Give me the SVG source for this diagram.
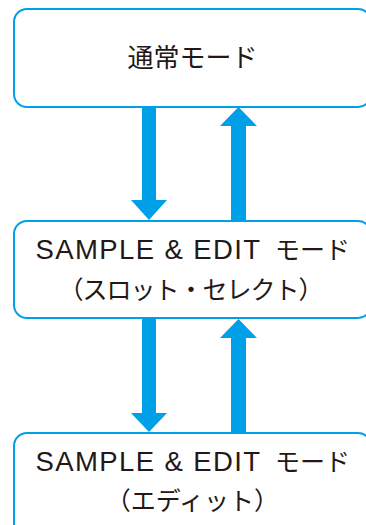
<svg xmlns="http://www.w3.org/2000/svg" width="366" height="525" viewBox="0 0 366 525">
<style>
.box{fill:#fff;stroke:#00a0e9;stroke-width:2}
.arr{fill:#00a0e9}
text{font-family:"Liberation Sans","Noto Sans CJK JP",sans-serif;font-size:25px;fill:#231815}
.c{text-anchor:middle}
.lat{font-size:27.5px;letter-spacing:1.4px}
.jp{font-family:"Noto Sans CJK JP",sans-serif;letter-spacing:0}
</style>
<rect width="366" height="525" fill="#fff"/>
<g id="connectors">
<polygon class="arr" points="142,107 156,107 156,200 167,200 149,220 131,200 142,200"/>
<polygon class="arr" points="231,220 246,220 246,126 257,126 238.5,107 220,126 231,126"/>
<polygon class="arr" points="142,318 156,318 156,413 167,413 149,432 131,413 142,413"/>
<polygon class="arr" points="231,432 246,432 246,338 257,338 238.5,319 220,338 231,338"/>
</g>
<g id="node-normal">
<rect class="box" x="14" y="9" width="357" height="98" rx="13"/>
<text class="c" x="192.5" y="67" style="font-size:26px">通常モード</text>
</g>
<g id="node-slot">
<rect class="box" x="14" y="221" width="357" height="97" rx="13"/>
<text x="35.5" y="259"><tspan class="lat">SAMPLE &amp; EDIT </tspan><tspan class="jp" x="275">モード</tspan></text>
<text class="c" x="190.5" y="299" style="letter-spacing:-1px">（スロット・セレクト）</text>
</g>
<g id="node-edit">
<rect class="box" x="14" y="433" width="357" height="110" rx="13"/>
<text x="35.5" y="471"><tspan class="lat">SAMPLE &amp; EDIT </tspan><tspan class="jp" x="275">モード</tspan></text>
<text class="c" x="192.5" y="510">（エディット）</text>
</g>
</svg>
